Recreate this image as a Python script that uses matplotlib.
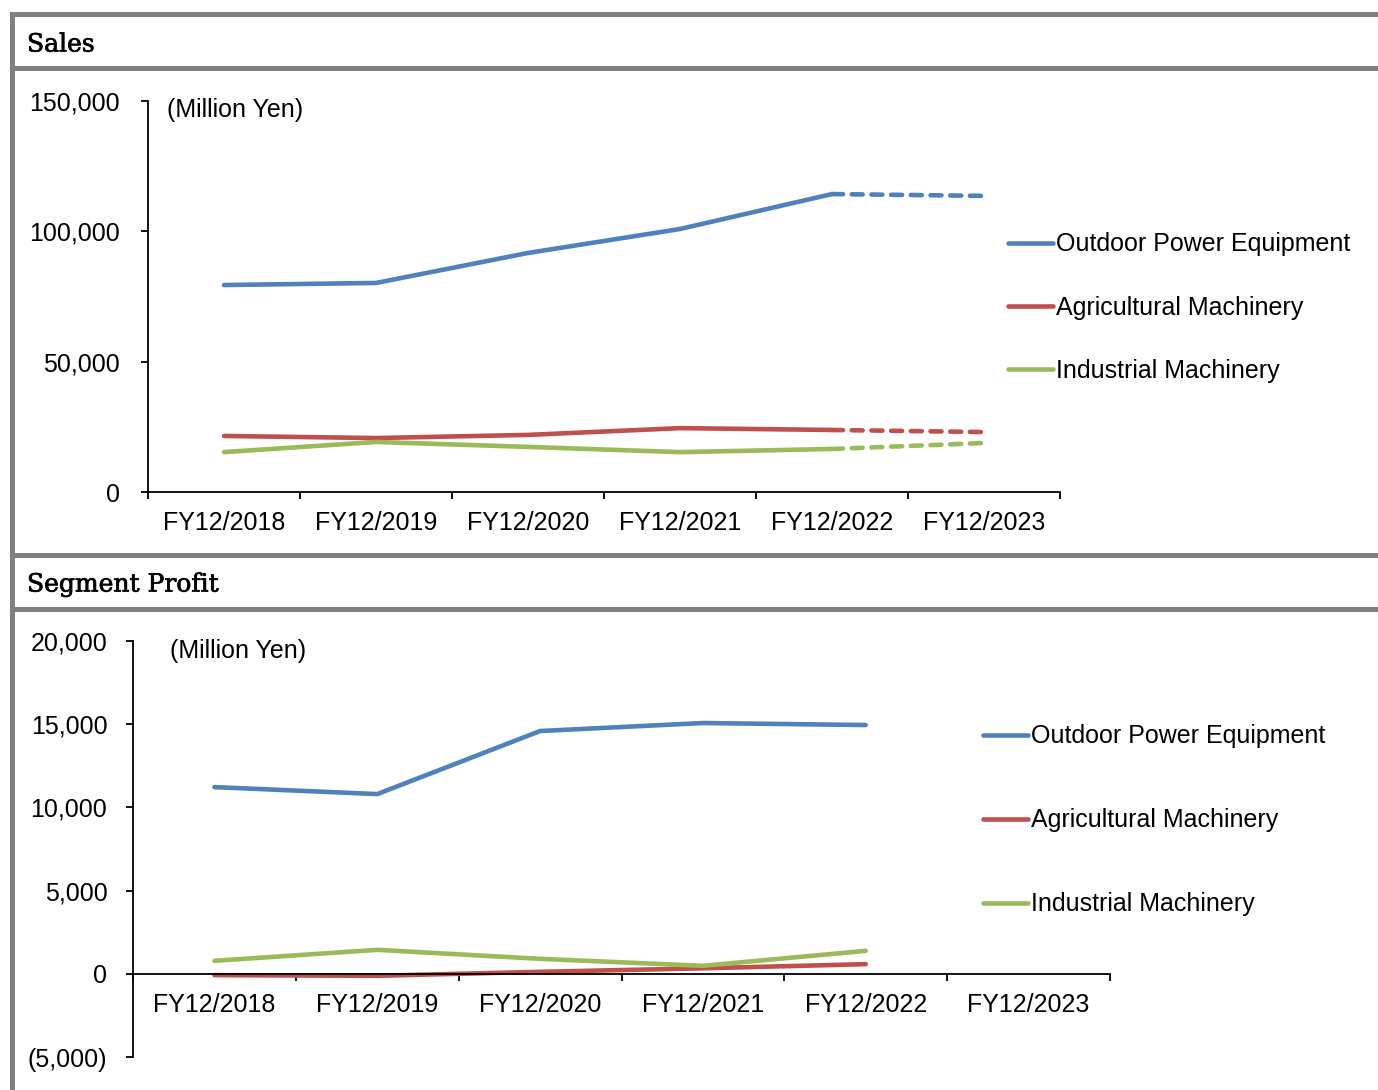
import matplotlib
matplotlib.use("Agg")
import matplotlib.pyplot as plt
import matplotlib.patheffects as pe
from matplotlib.patches import Rectangle
from matplotlib.ticker import FuncFormatter

plt.rcParams['font.family'] = ['Liberation Sans', 'DejaVu Sans']

years = ["FY12/2018", "FY12/2019", "FY12/2020", "FY12/2021", "FY12/2022", "FY12/2023"]
series = ["Outdoor Power Equipment", "Agricultural Machinery", "Industrial Machinery"]
colors = ["#4F81BD", "#C0504D", "#9BBB59"]

# sales, last value is the FY12/2023 forecast
sales_outdoor = [79400, 80200, 91700, 100900, 114300, 113600]
sales_agri = [21500, 20700, 21900, 24500, 23800, 23000]
sales_indus = [15300, 19200, 17300, 15300, 16500, 18800]

# segment profit (no forecast)
profit_outdoor = [11220, 10800, 14590, 15070, 14950]
profit_agri = [-80, -120, 120, 330, 580]
profit_indus = [780, 1440, 900, 480, 1380]

W, H = 1378, 1090
fig = plt.figure(figsize=(W / 100, H / 100), dpi=100)

gray = "#808080"
def px_rect(x0, y0, x1, y1):
    fig.add_artist(Rectangle((x0 / W, 1 - y1 / H), (x1 - x0) / W, (y1 - y0) / H,
                             transform=fig.transFigure, color=gray, lw=0))

# frame
px_rect(10, 12, 15, H)
for y0 in (12, 66, 553, 607):
    px_rect(10, y0, W, y0 + 5)

heavy = [pe.withStroke(linewidth=0.5, foreground="black")]
fig.text(27 / W, 1 - 45 / H, "Sales", family="DejaVu Serif", fontsize=18,
         va="center", path_effects=heavy)
fig.text(27 / W, 1 - 585 / H, "Segment Profit", family="DejaVu Serif", fontsize=18,
         va="center", path_effects=heavy)


def style_axes(ax, n, ypad):
    for s in ("top", "right"):
        ax.spines[s].set_visible(False)
    ax.spines["left"].set_linewidth(1.3)
    ax.spines["bottom"].set_linewidth(1.3)
    ax.set_xlim(0, n)
    ax.set_xticks(range(n + 1))
    ax.set_xticklabels([])
    ax.set_xticks([i + 0.5 for i in range(n)], minor=True)
    ax.set_xticklabels(years, minor=True)
    ax.tick_params(axis="x", which="major", direction="out", length=5, width=1.3)
    ax.tick_params(axis="x", which="minor", length=0, pad=14, labelsize=18)
    ax.tick_params(axis="y", direction="out", length=5, width=1.3, pad=ypad, labelsize=18)


xs = [i + 0.5 for i in range(6)]
lw = 3.3

# ---- Sales ----
ax1 = fig.add_axes([148 / W, 1 - 492 / H, 912 / W, 391 / H])
style_axes(ax1, 6, 15)
ax1.set_ylim(0, 150000)
ax1.set_yticks([0, 50000, 100000, 150000])
ax1.yaxis.set_major_formatter(FuncFormatter(lambda v, p: f"{v:,.0f}"))
handles = []
for vals, c, name in zip([sales_outdoor, sales_agri, sales_indus], colors, series):
    ln, = ax1.plot(xs[:5], vals[:5], color=c, lw=lw, solid_capstyle="round", label=name)
    ax1.plot(xs[4:6], vals[4:6], color=c, lw=lw, linestyle=(0, (2.4, 1.9)),
             dash_capstyle="round")
    handles.append(ln)
fig.text(167 / W, 1 - 110 / H, "(Million Yen)", fontsize=18, va="center")
fig.legend(handles=handles, loc="upper left", bbox_to_anchor=(995 / W, 1 - 220 / H),
           frameon=False, fontsize=18, handlelength=1.8, handletextpad=0.15,
           labelspacing=1.57, borderpad=0)

# ---- Segment Profit ----
ax2 = fig.add_axes([133 / W, 1 - 1057 / H, 977 / W, 416 / H])
style_axes(ax2, 6, 13.5)
ax2.set_ylim(-5000, 20000)
ax2.set_yticks([-5000, 0, 5000, 10000, 15000, 20000])
ax2.yaxis.set_major_formatter(
    FuncFormatter(lambda v, p: f"({-v:,.0f})" if v < 0 else f"{v:,.0f}"))
ax2.spines["bottom"].set_position(("data", 0))
handles = []
for vals, c, name in zip([profit_outdoor, profit_agri, profit_indus], colors, series):
    ln, = ax2.plot(xs[:5], vals, color=c, lw=lw, solid_capstyle="round", label=name)
    handles.append(ln)
fig.text(170 / W, 1 - 651 / H, "(Million Yen)", fontsize=18, va="center")
fig.legend(handles=handles, loc="upper left", bbox_to_anchor=(970 / W, 1 - 712 / H),
           frameon=False, fontsize=18, handlelength=1.8, handletextpad=0.15,
           labelspacing=2.4, borderpad=0)

fig.savefig("out.png", dpi=100)
